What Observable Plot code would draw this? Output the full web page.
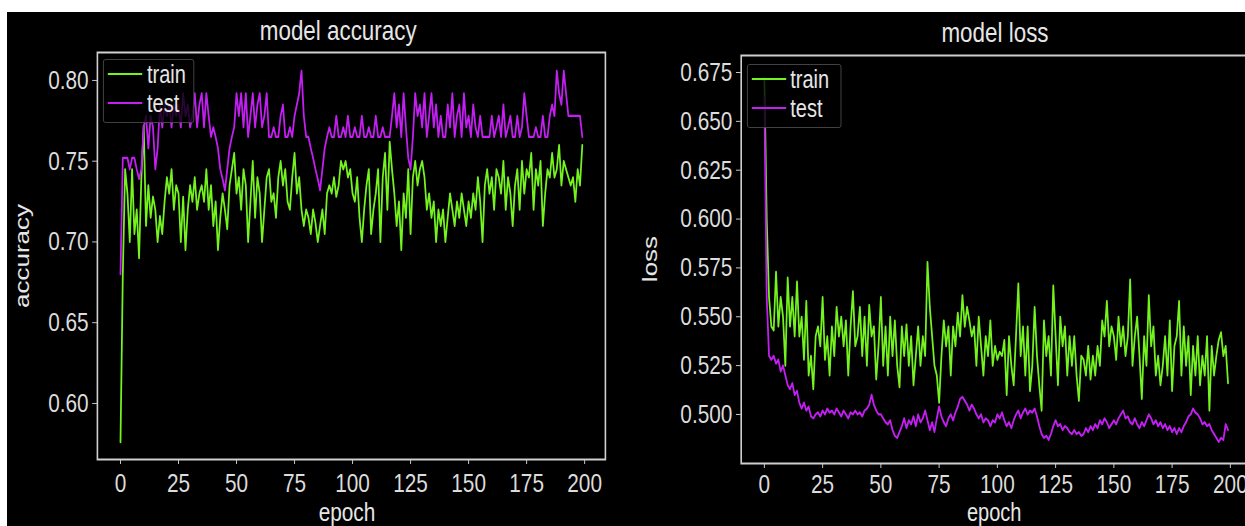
<!DOCTYPE html>
<html><head><meta charset="utf-8">
<script src="https://cdn.jsdelivr.net/npm/d3@7"></script>
<script src="https://cdn.jsdelivr.net/npm/@observablehq/plot@0.6"></script>
<style>
html,body{margin:0;padding:0;background:#fff;width:1245px;height:526px;overflow:hidden;}
#wrap{position:absolute;left:7px;top:12px;width:1238px;height:514px;overflow:hidden;background:#000;}
#stage{position:absolute;left:0;top:0;width:1560px;height:514px;transform:scaleX(0.8);transform-origin:0 0;
  font-family:"Liberation Sans",Arial,sans-serif;color:#e6e6e6;}
.abs{position:absolute;white-space:nowrap;line-height:1;}
.ctr{transform:translate(-50%,-50%);}
.title{font-size:28px;}
.lab{font-size:26px;}
.labs{font-size:25px;}
.rot{transform:translate(-50%,-50%) rotate(-90deg);}
.legend{position:absolute;border:1px solid #4a4a4a;background:rgba(0,0,0,0.8);border-radius:3px;}
.sw{position:absolute;height:2.5px;}
.lt{position:absolute;font-size:25px;line-height:20px;transform:translateY(-50%);color:#e6e6e6;}
svg{position:absolute;top:0;}
</style>
</head><body>
<div id="wrap"><div id="stage"></div></div>
<script>
// ---- data (epochs 0..199) ----
const xTickValues = [0, 25, 50, 75, 100, 125, 150, 175, 200];
const accTicks = [0.60, 0.65, 0.70, 0.75, 0.80];
const lossTicks = [0.500, 0.525, 0.550, 0.575, 0.600, 0.625, 0.650, 0.675];
const seriesNames = ["train", "test"];

const accTrain = [
0.576,0.680,0.745,0.730,0.700,0.745,0.705,0.720,0.690,0.740,
0.772,0.710,0.735,0.715,0.728,0.720,0.700,0.716,0.705,0.725,
0.740,0.730,0.745,0.720,0.735,0.730,0.700,0.728,0.695,0.720,
0.735,0.725,0.740,0.720,0.730,0.735,0.725,0.745,0.720,0.735,
0.710,0.725,0.695,0.715,0.730,0.720,0.708,0.735,0.745,0.755,
0.730,0.740,0.720,0.745,0.735,0.700,0.725,0.750,0.715,0.740,
0.730,0.700,0.720,0.740,0.745,0.725,0.730,0.715,0.740,0.750,
0.735,0.745,0.725,0.720,0.740,0.755,0.730,0.740,0.720,0.710,
0.720,0.715,0.705,0.720,0.712,0.700,0.710,0.720,0.705,0.730,
0.735,0.730,0.740,0.728,0.735,0.750,0.745,0.750,0.740,0.745,
0.730,0.725,0.740,0.715,0.700,0.720,0.735,0.745,0.705,0.720,
0.730,0.745,0.700,0.740,0.755,0.720,0.762,0.745,0.730,0.710,
0.725,0.695,0.730,0.715,0.745,0.705,0.740,0.750,0.735,0.745,
0.750,0.740,0.720,0.730,0.715,0.725,0.700,0.720,0.710,0.720,
0.700,0.715,0.730,0.720,0.710,0.725,0.715,0.730,0.720,0.710,
0.725,0.715,0.730,0.720,0.740,0.725,0.700,0.735,0.745,0.730,
0.740,0.720,0.745,0.740,0.730,0.750,0.720,0.740,0.730,0.710,
0.735,0.745,0.720,0.750,0.730,0.745,0.740,0.755,0.720,0.745,
0.735,0.750,0.710,0.730,0.745,0.740,0.755,0.740,0.745,0.760,
0.735,0.750,0.745,0.740,0.735,0.740,0.725,0.745,0.735,0.760];

const accTest = [
0.680,0.752,0.752,0.752,0.745,0.752,0.752,0.745,0.739,0.745,
0.771,0.778,0.758,0.778,0.771,0.745,0.758,0.785,0.771,0.785,
0.778,0.785,0.771,0.785,0.778,0.785,0.771,0.792,0.778,0.785,
0.771,0.778,0.792,0.771,0.785,0.792,0.771,0.792,0.778,0.765,
0.771,0.765,0.758,0.745,0.739,0.732,0.745,0.758,0.765,0.771,
0.792,0.778,0.792,0.771,0.792,0.765,0.778,0.792,0.771,0.785,
0.792,0.771,0.778,0.792,0.765,0.765,0.771,0.765,0.765,0.778,
0.785,0.765,0.765,0.771,0.765,0.778,0.785,0.792,0.806,0.778,
0.765,0.765,0.758,0.752,0.745,0.739,0.732,0.745,0.758,0.765,
0.771,0.765,0.765,0.778,0.765,0.765,0.771,0.765,0.778,0.765,
0.765,0.771,0.765,0.765,0.778,0.765,0.765,0.771,0.765,0.765,
0.778,0.765,0.765,0.771,0.765,0.765,0.765,0.778,0.792,0.771,
0.785,0.765,0.792,0.771,0.752,0.745,0.765,0.792,0.778,0.785,
0.771,0.792,0.765,0.778,0.792,0.771,0.785,0.765,0.778,0.765,
0.765,0.785,0.771,0.792,0.765,0.778,0.785,0.765,0.792,0.771,
0.778,0.765,0.785,0.771,0.765,0.778,0.765,0.765,0.765,0.765,
0.778,0.765,0.771,0.778,0.765,0.785,0.765,0.771,0.778,0.765,
0.765,0.778,0.765,0.771,0.792,0.778,0.765,0.765,0.765,0.771,
0.765,0.765,0.778,0.765,0.765,0.778,0.785,0.778,0.806,0.792,
0.785,0.806,0.792,0.778,0.778,0.778,0.778,0.778,0.778,0.765];

const lossTrain = [
0.672,0.600,0.560,0.545,0.543,0.573,0.545,0.560,0.550,0.525,
0.570,0.545,0.560,0.540,0.568,0.540,0.550,0.528,0.558,0.520,
0.530,0.513,0.540,0.545,0.535,0.560,0.528,0.540,0.520,0.545,
0.530,0.555,0.540,0.550,0.535,0.548,0.520,0.545,0.563,0.535,
0.540,0.555,0.530,0.550,0.525,0.556,0.540,0.545,0.518,0.535,
0.560,0.525,0.545,0.520,0.550,0.530,0.548,0.525,0.514,0.545,
0.530,0.546,0.525,0.540,0.515,0.530,0.545,0.525,0.540,0.530,
0.578,0.555,0.540,0.525,0.520,0.506,0.530,0.548,0.535,0.545,
0.520,0.545,0.535,0.552,0.540,0.561,0.545,0.555,0.548,0.540,
0.545,0.525,0.550,0.535,0.520,0.540,0.530,0.548,0.525,0.535,
0.528,0.532,0.530,0.538,0.510,0.540,0.525,0.515,0.540,0.567,
0.530,0.545,0.520,0.545,0.512,0.525,0.555,0.530,0.515,0.502,
0.548,0.530,0.540,0.520,0.566,0.540,0.515,0.550,0.535,0.545,
0.520,0.540,0.525,0.540,0.520,0.507,0.530,0.528,0.520,0.535,
0.518,0.530,0.520,0.535,0.525,0.548,0.540,0.558,0.535,0.545,
0.540,0.528,0.550,0.535,0.545,0.530,0.540,0.569,0.525,0.540,
0.550,0.530,0.508,0.540,0.525,0.561,0.535,0.545,0.520,0.530,
0.515,0.525,0.540,0.520,0.548,0.512,0.535,0.540,0.558,0.520,
0.545,0.525,0.540,0.510,0.535,0.520,0.540,0.515,0.530,0.520,
0.540,0.502,0.535,0.520,0.530,0.538,0.542,0.530,0.535,0.516];

const lossTest = [
0.662,0.560,0.530,0.528,0.530,0.526,0.528,0.522,0.525,0.520,
0.515,0.513,0.516,0.510,0.512,0.506,0.503,0.506,0.502,0.504,
0.499,0.498,0.500,0.501,0.499,0.502,0.500,0.503,0.501,0.502,
0.500,0.503,0.501,0.499,0.502,0.500,0.498,0.501,0.500,0.502,
0.500,0.501,0.499,0.502,0.503,0.505,0.510,0.505,0.502,0.500,
0.500,0.498,0.496,0.495,0.497,0.492,0.489,0.488,0.491,0.494,
0.498,0.493,0.497,0.495,0.499,0.494,0.500,0.496,0.498,0.502,
0.497,0.492,0.496,0.491,0.498,0.504,0.499,0.496,0.494,0.498,
0.500,0.497,0.501,0.504,0.508,0.509,0.507,0.505,0.502,0.505,
0.503,0.500,0.498,0.500,0.496,0.498,0.497,0.494,0.497,0.496,
0.500,0.498,0.501,0.497,0.494,0.496,0.493,0.497,0.500,0.502,
0.498,0.501,0.503,0.500,0.502,0.501,0.503,0.499,0.494,0.490,
0.488,0.489,0.487,0.490,0.494,0.497,0.494,0.495,0.492,0.494,
0.493,0.491,0.490,0.492,0.490,0.491,0.489,0.490,0.493,0.491,
0.494,0.492,0.495,0.493,0.497,0.495,0.498,0.496,0.493,0.495,
0.497,0.495,0.498,0.500,0.502,0.498,0.499,0.496,0.495,0.498,
0.495,0.493,0.496,0.494,0.497,0.500,0.498,0.495,0.497,0.494,
0.496,0.493,0.495,0.492,0.494,0.491,0.493,0.490,0.493,0.491,
0.494,0.496,0.499,0.500,0.503,0.501,0.500,0.498,0.495,0.496,
0.494,0.495,0.492,0.490,0.488,0.486,0.488,0.487,0.495,0.492];

const GREEN = "#74f31f";
const PURPLE = "#c41ff2";
const FONT = '"Liberation Sans", Arial, sans-serif';

function makeChart(train, test, yDomain, yTicks, fmt, w, mL, mR, mT, mB, pad) {
  return Plot.plot({
    width: w, height: 514,
    marginLeft: mL, marginRight: mR, marginTop: mT, marginBottom: mB,
    style: {background: "transparent", color: "#dcdcdc", fontFamily: FONT, fontSize: "26px", overflow: "visible"},
    x: {domain: [-9.95, 208.95], ticks: xTickValues, tickSize: 5, tickPadding: pad, tickFormat: d => String(d), label: null},
    y: {domain: yDomain, ticks: yTicks, tickSize: 6, tickPadding: 5, tickFormat: fmt, label: null},
    marks: [
      Plot.line(train, {x: (d, i) => i, y: d => d, stroke: GREEN, strokeWidth: 2.2}),
      Plot.line(test, {x: (d, i) => i, y: d => d, stroke: PURPLE, strokeWidth: 2.2}),
      Plot.frame({stroke: "#cfcfcf", strokeWidth: 2})
    ]
  });
}

const stage = document.getElementById("stage");

const left = makeChart(accTrain, accTest, [0.5653, 0.8173], accTicks, d3.format(".2f"), 766, 112.5, 18.5, 40, 67, 9);
left.style.left = "0px";
stage.appendChild(left);

const right = makeChart(lossTrain, lossTest, [0.4749, 0.6837], lossTicks, d3.format(".3f"), 800, 151.25, 11.25, 43, 63, 6);
right.style.left = "766.25px";
stage.appendChild(right);

function addText(txt, x, y, cls) {
  const d = document.createElement("div");
  d.className = "abs " + cls;
  d.style.left = x + "px"; d.style.top = y + "px";
  d.textContent = txt;
  stage.appendChild(d);
}
addText("model accuracy", 414, 19, "ctr title");
addText("model loss", 1235, 21, "ctr title");
addText("epoch", 425, 500, "ctr lab");
addText("epoch", 1234, 500, "ctr labs");
addText("accuracy", 19, 243.5, "rot lab");
addText("loss", 804, 247, "rot lab");

function addLegend(bx, by, bw, bh, lx, lw, ly, tx) {
  const box = document.createElement("div");
  box.className = "legend";
  Object.assign(box.style, {left: bx + "px", top: by + "px", width: bw + "px", height: bh + "px"});
  stage.appendChild(box);
  [GREEN, PURPLE].forEach((c, i) => {
    const s = document.createElement("div");
    s.className = "sw";
    Object.assign(s.style, {left: lx + "px", top: (ly[i] - 1.25) + "px", width: lw + "px", background: c});
    stage.appendChild(s);
    const t = document.createElement("div");
    t.className = "lt";
    Object.assign(t.style, {left: tx + "px", top: ly[i] + "px"});
    t.textContent = seriesNames[i];
    stage.appendChild(t);
  });
}
addLegend(120, 47, 112, 62, 126, 43, [62, 91], 175);
addLegend(925, 52, 116, 62, 931, 43, [67, 96], 979);
</script>
</body></html>
